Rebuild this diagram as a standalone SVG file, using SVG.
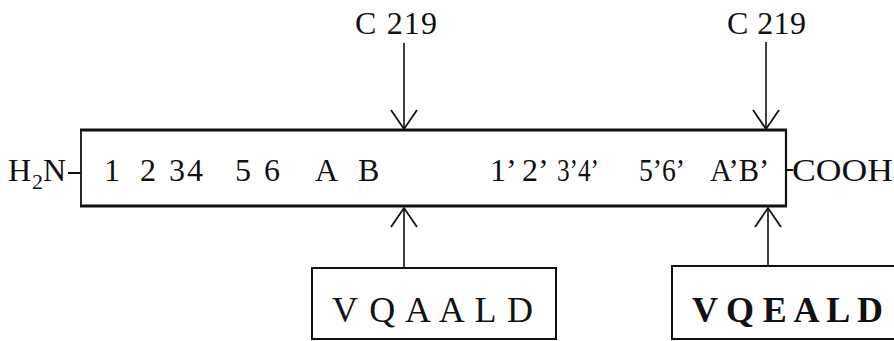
<svg xmlns="http://www.w3.org/2000/svg" width="894" height="341" viewBox="0 0 894 341">
<style>
  text { font-family: "Liberation Serif", "Times New Roman", serif; font-size: 32px; fill: #111; }
  .big { font-size: 36px; }
  .bold { font-weight: bold; }
  .edge { stroke: #111; fill: none; }
  .conn line { stroke: #111; stroke-width: 1.6; marker-end: url(#v); }
</style>
<defs>
  <marker id="v" markerUnits="userSpaceOnUse" viewBox="-22 -16 24 32" markerWidth="24" markerHeight="32" refX="0" refY="0" orient="auto">
    <path d="M-19,-13 L0,0 L-19,13" fill="none" stroke="#111" stroke-width="1.8"/>
  </marker>
</defs>
<rect width="894" height="341" fill="#fff"/>

<g id="chain">
  <line class="edge" x1="80" y1="130" x2="787" y2="130" stroke-width="3.2"/>
  <line class="edge" x1="80" y1="206" x2="787" y2="206" stroke-width="3.2"/>
  <line class="edge" x1="81" y1="130" x2="81" y2="206" stroke-width="1.8"/>
  <line class="edge" x1="786" y1="130" x2="786" y2="206" stroke-width="2.2"/>
  <text x="8" y="181">H<tspan x="32" y="189" style="font-size:22px">2</tspan><tspan x="43" y="181">N</tspan></text>
  <line class="edge" x1="68" y1="173" x2="81" y2="173" stroke-width="2"/>
  <text x="104" y="181">1</text>
  <text x="140" y="181">2</text>
  <text x="169" y="181" textLength="34">34</text>
  <text x="235" y="181">5</text>
  <text x="264" y="181">6</text>
  <text x="315" y="181">A</text>
  <text x="358" y="181">B</text>
  <text x="490" y="181">1’</text>
  <text x="522" y="181">2’</text>
  <text x="557" y="181" textLength="42" lengthAdjust="spacingAndGlyphs">3’4’</text>
  <text x="639" y="181" textLength="46" lengthAdjust="spacingAndGlyphs">5’6’</text>
  <text x="710" y="181" textLength="59" lengthAdjust="spacingAndGlyphs">A’B’</text>
  <line class="edge" x1="786" y1="170" x2="793" y2="170" stroke-width="2"/>
  <text x="792" y="181" textLength="101" lengthAdjust="spacingAndGlyphs">COOH</text>
</g>

<g id="label-c219-left">
  <text x="355" y="34" textLength="82">C 219</text>
</g>
<g id="label-c219-right">
  <text x="727" y="34" textLength="79">C 219</text>
</g>

<g id="box-vqaald">
  <rect class="edge" x="312" y="268" width="244" height="71" stroke-width="2"/>
  <text class="big" x="332" y="322" textLength="201">V Q A A L D</text>
</g>
<g id="box-vqeald">
  <rect class="edge" x="672" y="266" width="240" height="73" stroke-width="2"/>
  <text class="big bold" x="692" y="322" textLength="191">V Q E A L D</text>
</g>

<g class="conn" id="connectors">
  <line x1="404" y1="43" x2="404" y2="129"/>
  <line x1="766" y1="42" x2="766" y2="129"/>
  <line x1="404" y1="267" x2="404" y2="208"/>
  <line x1="768" y1="265" x2="768" y2="208"/>
</g>
</svg>
